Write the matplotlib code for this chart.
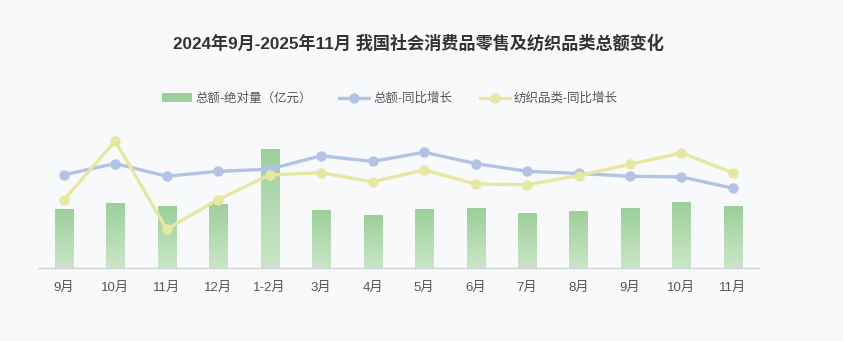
import numpy as np
import matplotlib
matplotlib.use("Agg")
import matplotlib.pyplot as plt
from matplotlib.colors import LinearSegmentedColormap
from matplotlib.lines import Line2D
from matplotlib.patches import Patch

plt.rcParams['font.family'] = ['Liberation Sans', 'Noto Sans CJK SC', 'DejaVu Sans']

months = ['9月', '10月', '11月', '12月', '1-2月', '3月', '4月', '5月',
          '6月', '7月', '8月', '9月', '10月', '11月']
# 社会消费品零售总额（亿元）
total_amount = [41112, 45396, 43763, 45172, 83731, 40940, 37174, 41326,
                42287, 38780, 39668, 41971, 46291, 43898]
# 同比增长（%）
total_yoy = [3.2, 4.8, 3.0, 3.7, 4.0, 5.9, 5.1, 6.4, 4.8, 3.7, 3.4, 3.0, 2.9, 1.3]
textile_yoy = [-0.4, 8.0, -4.5, -0.3, 3.2, 3.5, 2.2, 3.9, 1.9, 1.8, 3.1, 4.7, 6.3, 3.5]

bg = '#f8f9fb'
bar_top = '#9ccf9a'
bar_bottom = '#cbe6c8'
blue = '#b3c3e3'
yellow = '#e6e7a0'

fig = plt.figure(figsize=(8.43, 3.41), dpi=100, facecolor=bg)
ax = fig.add_axes([0.045, 0.214, 0.855, 0.414])
ax.set_facecolor(bg)
x = np.arange(len(months))

bars = ax.bar(x, total_amount, width=0.35, color='none', zorder=2)
grad = LinearSegmentedColormap.from_list('g', [bar_bottom, bar_top])
ramp = np.linspace(0, 1, 256).reshape(-1, 1)
for b in bars:
    x0, w, h = b.get_x(), b.get_width(), b.get_height()
    ax.imshow(ramp, cmap=grad, origin='lower', aspect='auto',
              extent=(x0, x0 + w, 0, h), zorder=2)
ax.set_xlim(-0.5, len(months) - 0.5)
ax.set_ylim(0, 100000)
ax.set_yticks([])
ax.set_xticks(x)
ax.set_xticklabels(months, fontsize=9.5, color='#555555')
ax.tick_params(axis='x', length=0, pad=10)
for s in ['top', 'left', 'right']:
    ax.spines[s].set_visible(False)
ax.spines['bottom'].set_color('#cfd2d6')
ax.spines['bottom'].set_linewidth(1)

ax2 = ax.twinx()
ax2.set_ylim(-10, 10)
ax2.plot(x, total_yoy, color=blue, lw=2.4, marker='o', ms=6.5, zorder=3)
ax2.plot(x, textile_yoy, color=yellow, lw=2.4, marker='o', ms=6.5, zorder=3)
ax2.set_yticks([])
for s in ['top', 'left', 'right', 'bottom']:
    ax2.spines[s].set_visible(False)

fig.text(0.496, 0.875, '2024年9月-2025年11月 我国社会消费品零售及纺织品类总额变化',
         ha='center', va='center', fontsize=12.3, fontweight='bold', color='#333333')

handles = [
    Patch(facecolor=bar_top, edgecolor='none'),
    Line2D([0], [0], color=blue, lw=2.4, marker='o', ms=6.5),
    Line2D([0], [0], color=yellow, lw=2.4, marker='o', ms=6.5),
]
labels = ['总额-绝对量（亿元）', '总额-同比增长', '纺织品类-同比增长']
fig.legend(handles, labels, loc='center', bbox_to_anchor=(0.462, 0.71), ncol=3,
           frameon=False, fontsize=9, handlelength=2.4, handleheight=0.7,
           handletextpad=0.3, columnspacing=2.2, labelcolor='#555555')

fig.savefig('out.png', dpi=100, facecolor=bg)
